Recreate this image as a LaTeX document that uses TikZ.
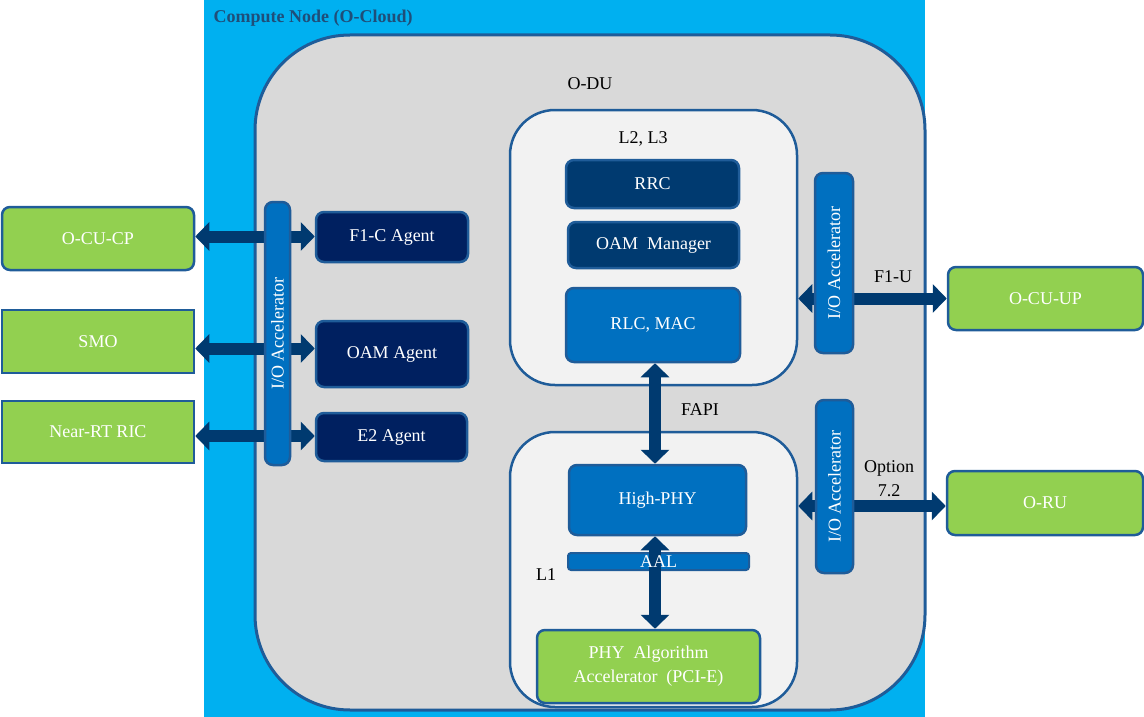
\documentclass[tikz,border=0pt]{standalone}
\usepackage{fontspec}
\setmainfont{Liberation Serif}
\usetikzlibrary{arrows.meta}
\definecolor{cloudblue}{HTML}{00B0F0}
\definecolor{dugray}{HTML}{D9D9D9}
\definecolor{layergray}{HTML}{F2F2F2}
\definecolor{edgeblue}{HTML}{1F5C99}
\definecolor{agentnavy}{HTML}{002060}
\definecolor{deepblue}{HTML}{003A70}
\definecolor{midblue}{HTML}{0070C0}
\definecolor{leafgreen}{HTML}{92D050}
\definecolor{titleblue}{HTML}{1F4E79}
\begin{document}
\begin{tikzpicture}[x=1pt,y=-1pt,font=\fontsize{18}{24}\selectfont,
    box/.style={draw=edgeblue,line width=2.5pt,rounded corners=8pt,text=white,inner sep=0pt,align=center},
    greenbox/.style={box,fill=leafgreen},
    agentbox/.style={box,fill=agentnavy},
    l3box/.style={box,fill=deepblue},
    phybox/.style={box,fill=midblue},
    iobar/.style={box,fill=midblue,rotate=90},
    layer/.style={draw=edgeblue,line width=2.5pt,fill=layergray,rounded corners=45pt},
    tag/.style={text=black,align=center},
    link/.style={deepblue,line width=12pt,{Triangle[width=28pt,length=14pt]}-{Triangle[width=28pt,length=14pt]}}]
      \useasboundingbox (0,0) rectangle (1144,717);
      \fill[cloudblue] (204,0) rectangle (925,717);
      \node[anchor=west,text=titleblue,font=\fontsize{18}{24}\selectfont\bfseries] (cloud) at (210,18) {Compute Node (O-Cloud)};
      \node[draw=edgeblue,line width=3pt,fill=dugray,rounded corners=95pt,minimum width=670pt,minimum height=675pt] (odu) at (590,372.5) {};
      \node[tag] (odulabel) at (590,84) {O-DU};
      \node[layer,minimum width=287pt,minimum height=275pt] (l23) at (653.5,247.5) {};
      \node[tag] (l23label) at (643,139) {L2, L3};
      \node[l3box,minimum width=173pt,minimum height=48pt] (rrc) at (652.5,184) {RRC};
      \node[l3box,minimum width=171pt,minimum height=46pt] (oamm) at (653.5,245) {OAM\ \ Manager};
      \node[phybox,minimum width=174pt,minimum height=74pt] (rlc) at (653,325) {RLC, MAC};
      \node[layer,minimum width=287pt,minimum height=275pt] (l1) at (653.5,569.5) {};
      \node[tag] (fapi) at (700,410) {FAPI};
      \node[phybox,minimum width=177pt,minimum height=70pt] (hphy) at (657.5,500) {High-PHY};
      \node[phybox,line width=2pt,rounded corners=3pt,minimum width=181pt,minimum height=17pt] (aal) at (658.5,561.5) {};
      \node[tag] (l1label) at (546,575) {L1};
      \node[greenbox,minimum width=223pt,minimum height=73pt] (phy) at (648.5,666.5) {PHY\ \ Algorithm\\Accelerator\ \ (PCI-E)};
      \node[greenbox,minimum width=192pt,minimum height=63pt] (ocucp) at (98,238.5) {O-CU-CP};
      \node[greenbox,sharp corners,minimum width=192pt,minimum height=63pt] (smo) at (98,341.5) {SMO};
      \node[greenbox,sharp corners,minimum width=192pt,minimum height=62pt] (ric) at (98,432) {Near-RT RIC};
      \node[agentbox,minimum width=152pt,minimum height=50pt] (f1c) at (392,237) {F1-C Agent};
      \node[agentbox,minimum width=152pt,minimum height=66pt] (oam) at (392,354) {OAM Agent};
      \node[agentbox,minimum width=151pt,minimum height=48pt] (e2) at (391.5,437) {E2 Agent};
      \node[greenbox,minimum width=195pt,minimum height=63pt] (ocuup) at (1045.5,298.5) {O-CU-UP};
      \node[greenbox,minimum width=196pt,minimum height=64pt] (oru) at (1045,503) {O-RU};
      \node[tag] (f1u) at (893,277) {F1-U};
      \node[tag] (opt) at (889,479) {Option\\7.2};
      \draw[link] ([yshift=2pt]ocucp.east) -- ([yshift=2pt]ocucp.east -| f1c.west);
      \draw[link] ([yshift=-7pt]smo.east) -- ([yshift=-7pt]smo.east -| oam.west);
      \draw[link] ([yshift=-4pt]ric.east) -- ([yshift=-4pt]ric.east -| e2.west);
      \draw[link] (ocuup.west -| l23.east) -- (ocuup.west);
      \draw[link] ([yshift=-3pt]oru.west -| l1.east) -- ([yshift=-3pt]oru.west);
      \draw[link] ([xshift=2pt]rlc.south) -- ([xshift=2pt]rlc.south |- hphy.north);
      \draw[link] ([xshift=-2.5pt]hphy.south) -- ([xshift=-2.5pt]hphy.south |- phy.north);
      \node[text=white] (aaltext) at (aal.center) {AAL};
      \node[iobar,minimum width=263pt,minimum height=25pt] (ioleft) at (277.5,333.5) {I/O Accelerator};
      \node[iobar,minimum width=180pt,minimum height=38pt] (iofone) at (834,263) {I/O Accelerator};
      \node[iobar,minimum width=173pt,minimum height=37pt] (ioru) at (834.5,486.5) {I/O Accelerator};
\end{tikzpicture}
\end{document}
